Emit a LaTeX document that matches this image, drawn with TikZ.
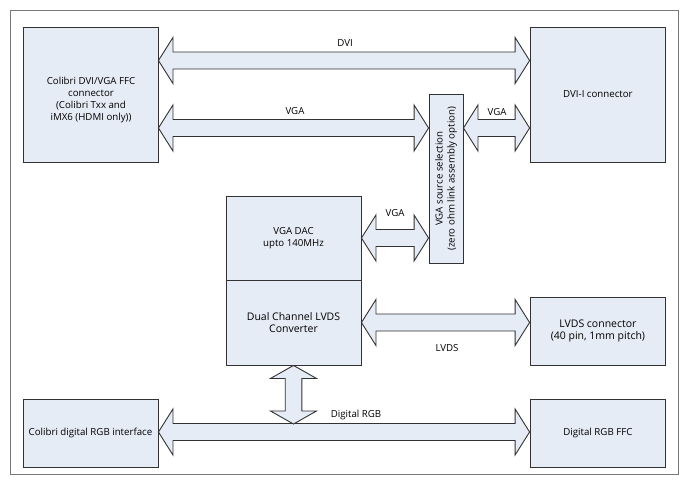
\documentclass[tikz,border=0pt]{standalone}
\usepackage{fontspec}
\setmainfont{Open Sans}
\usetikzlibrary{calc}
\definecolor{boxfill}{RGB}{230,236,246}
\definecolor{framegray}{RGB}{120,120,120}
\definecolor{edge}{RGB}{50,50,50}
\tikzset{
  blk/.style={draw=edge, fill=boxfill, line width=0.9pt, align=center,
    font=\fontsize{9.7}{12}\selectfont, inner sep=0pt},
  bigtext/.style={font=\fontsize{10.5}{12.5}\selectfont},
  arr/.style={draw=edge, fill=boxfill, line width=0.9pt, line join=miter},
  lbl/.style={font=\fontsize{9.7}{12}\selectfont, inner sep=0pt, align=center},
}
\newcommand\harr[2]{\draw[arr] let \p1=(#1), \p2=(#2) in
  (\x1,\y1) -- (\x1+14.5pt,\y1+23pt) -- (\x1+14.5pt,\y1+8.5pt) --
  (\x2-14.5pt,\y1+8.5pt) -- (\x2-14.5pt,\y1+23pt) -- (\x2,\y1) --
  (\x2-14.5pt,\y1-23pt) -- (\x2-14.5pt,\y1-8.5pt) --
  (\x1+14.5pt,\y1-8.5pt) -- (\x1+14.5pt,\y1-23pt) -- cycle;}
\newcommand\varr[2]{\draw[arr] let \p1=(#1), \p2=(#2) in
  (\x1,\y1) -- (\x1+23pt,\y1-13pt) -- (\x1+8.3pt,\y1-13pt) --
  (\x1+8.3pt,\y2+13pt) -- (\x1+23pt,\y2+13pt) -- (\x1,\y2) --
  (\x1-23pt,\y2+13pt) -- (\x1-8.3pt,\y2+13pt) --
  (\x1-8.3pt,\y1-13pt) -- (\x1-23pt,\y1-13pt) -- cycle;}
\begin{document}
\begin{tikzpicture}[x=1pt,y=-1pt]
\useasboundingbox[fill=white] (0,0) rectangle (690,480);
\draw[framegray, line width=0.9pt] (10,10) rectangle (678,474);

% boxes
\node[blk, minimum width=135pt, minimum height=135pt] (L) at (90.5,94.5) {};
\node[lbl] (Ltext) at (91,100) {Colibri DVI/VGA FFC\\connector\\ (Colibri Txx and\\iMX6 (HDMI only))};
\node[blk, minimum width=135.7pt, minimum height=135pt] (R) at (597.9,94.5) {DVI-I connector};
\node[blk, minimum width=34pt, minimum height=169pt] (SEL) at (446,178.7) {};
\node[lbl, rotate=90] (SELtext) at (SEL) {VGA source selection\\(zero ohm link assembly option)};
\node[blk, minimum width=135pt, minimum height=84pt] (DAC) at (293.5,238) {VGA DAC\\upto 140MHz};
\node[blk, bigtext, minimum width=135pt, minimum height=85pt] (CONV) at (293.5,322.5) {Dual Channel LVDS\\Converter};
\node[blk, bigtext, minimum width=135.7pt, minimum height=68pt] (LVDS) at (597.9,331) {LVDS connector\\(40 pin, 1mm pitch)};
\node[blk, minimum width=135pt, minimum height=68pt] (CRGB) at (90.5,433) {Colibri digital RGB interface};
\node[blk, minimum width=135.7pt, minimum height=68pt] (FFC) at (597.9,433) {Digital RGB FFC};
\coordinate (rgbtop) at (293.5,424);

% arrows
\harr{L.east |- 0,60.5}{R.west |- 0,60.5}
\harr{L.east |- 0,128}{SEL.west |- 0,128}
\harr{SEL.east |- 0,128}{R.west |- 0,128}
\harr{DAC.east |- 0,238}{SEL.west |- 0,238}
\harr{CONV.east |- 0,322.5}{LVDS.west |- 0,322.5}
\harr{CRGB.east |- 0,432}{FFC.west |- 0,432}
\varr{CONV.south}{rgbtop}

% labels
\node[lbl] (lDVI) at (345,43) {DVI};
\node[lbl] (lVGA1) at (295,111) {VGA};
\node[lbl] (lVGA2) at (497,112) {VGA};
\node[lbl] (lVGA3) at (395,213) {VGA};
\node[lbl] (lLVDS) at (447,348) {LVDS};
\node[lbl] (lRGB) at (356,415) {Digital RGB};
\end{tikzpicture}
\end{document}
